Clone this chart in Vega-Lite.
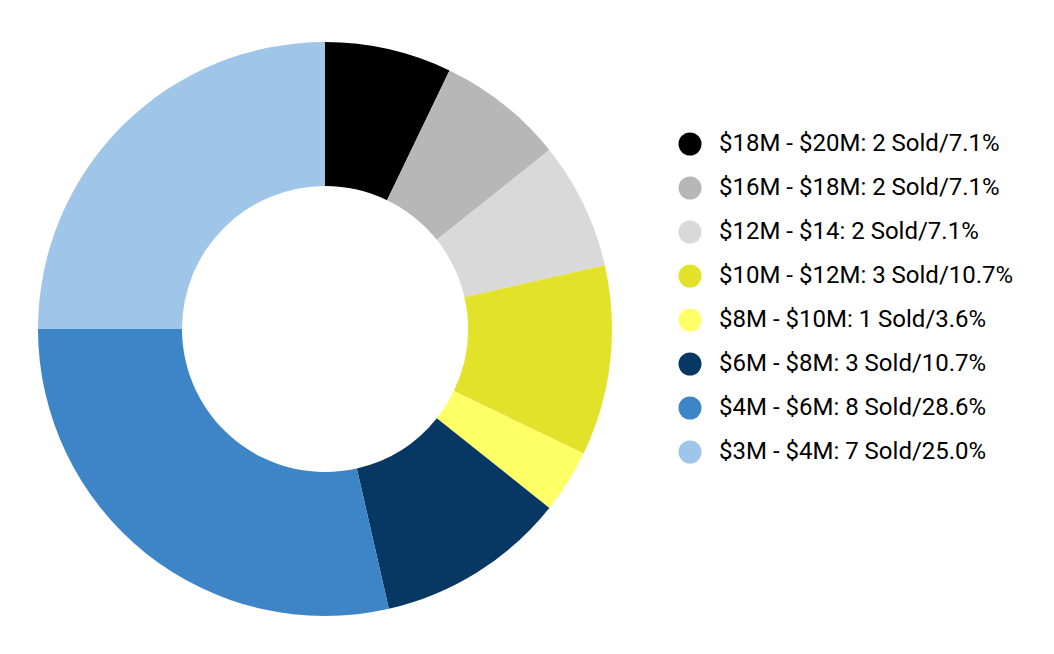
{
  "$schema": "https://vega.github.io/schema/vega-lite/v6.json",
  "width": 650,
  "height": 658,
  "padding": 0,
  "autosize": {"type": "pad"},
  "background": "white",
  "config": {"view": {"stroke": null}, "font": "Roboto"},
  "data": {
    "values": [
      {"label": "$18M - $20M: 2 Sold/7.1%", "sold": 2, "rank": 1},
      {"label": "$16M - $18M: 2 Sold/7.1%", "sold": 2, "rank": 2},
      {"label": "$12M - $14: 2 Sold/7.1%", "sold": 2, "rank": 3},
      {"label": "$10M - $12M: 3 Sold/10.7%", "sold": 3, "rank": 4},
      {"label": "$8M - $10M: 1 Sold/3.6%", "sold": 1, "rank": 5},
      {"label": "$6M - $8M: 3 Sold/10.7%", "sold": 3, "rank": 6},
      {"label": "$4M - $6M: 8 Sold/28.6%", "sold": 8, "rank": 7},
      {"label": "$3M - $4M: 7 Sold/25.0%", "sold": 7, "rank": 8}
    ]
  },
  "mark": {"type": "arc", "outerRadius": 287, "innerRadius": 143},
  "encoding": {
    "theta": {"field": "sold", "type": "quantitative", "stack": true},
    "order": {"field": "rank", "type": "quantitative", "sort": "ascending"},
    "color": {
      "field": "label",
      "type": "nominal",
      "sort": null,
      "scale": {
        "domain": [
          "$18M - $20M: 2 Sold/7.1%",
          "$16M - $18M: 2 Sold/7.1%",
          "$12M - $14: 2 Sold/7.1%",
          "$10M - $12M: 3 Sold/10.7%",
          "$8M - $10M: 1 Sold/3.6%",
          "$6M - $8M: 3 Sold/10.7%",
          "$4M - $6M: 8 Sold/28.6%",
          "$3M - $4M: 7 Sold/25.0%"
        ],
        "range": ["#000000", "#b7b7b7", "#d9d9d9", "#e2e22a", "#ffff66", "#073763", "#3d85c6", "#9fc5e8"]
      },
      "legend": {
        "title": null,
        "orient": "none",
        "legendX": 678,
        "legendY": 132,
        "symbolType": "circle",
        "symbolSize": 529,
        "symbolStrokeWidth": 0,
        "labelFontSize": 24,
        "labelFont": "Roboto",
        "labelColor": "#000000",
        "labelOffset": 17,
        "rowPadding": 20,
        "labelLimit": 400
      }
    }
  }
}
